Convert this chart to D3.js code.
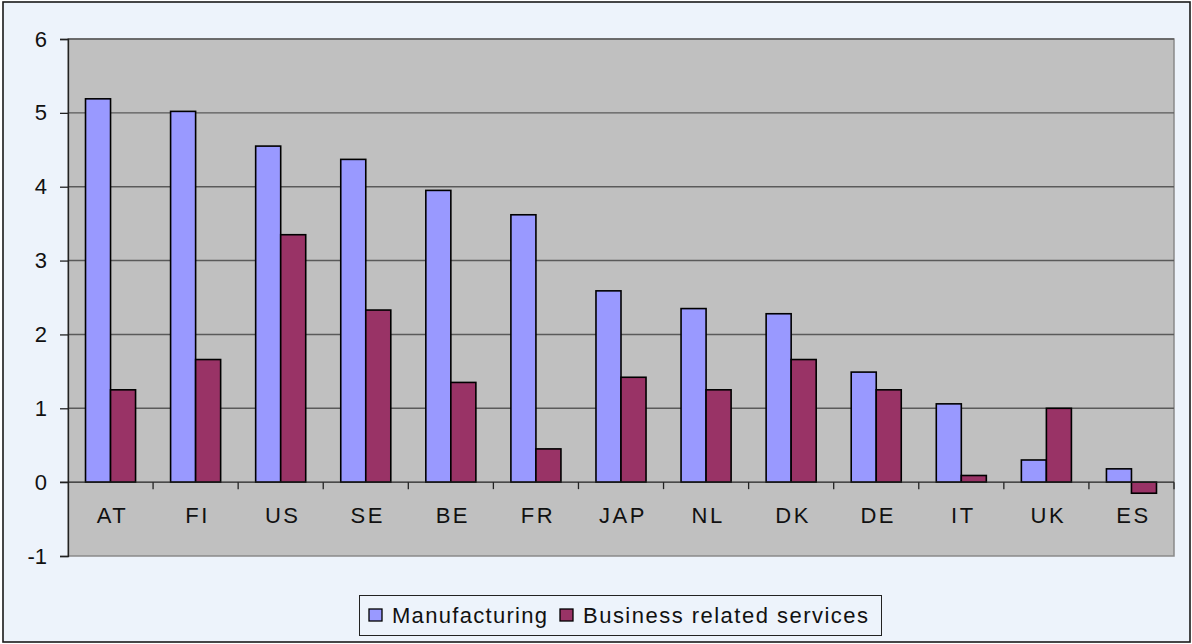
<!DOCTYPE html>
<html>
<head>
<meta charset="utf-8">
<script src="https://cdn.jsdelivr.net/npm/d3@7"></script>
<style>
  html, body { margin: 0; padding: 0; background: #ffffff; }
  svg { display: block; font-family: "Liberation Sans", Arial, sans-serif; }
</style>
</head>
<body>
<svg id="chart" width="1192" height="644"></svg>
<script>
// Countries along the category axis
const countries = ["AT", "FI", "US", "SE", "BE", "FR", "JAP", "NL", "DK", "DE", "IT", "UK", "ES"];
// Series names and values per country
const seriesNames = ["Manufacturing", "Business related services"];
const manufacturing = [5.19, 5.02, 4.55, 4.37, 3.95, 3.62, 2.59, 2.35, 2.28, 1.49, 1.06, 0.30, 0.18];
const services      = [1.25, 1.66, 3.35, 2.33, 1.35, 0.45, 1.42, 1.25, 1.66, 1.25, 0.09, 1.00, -0.15];
// Value axis ticks
const yTicks = [-1, 0, 1, 2, 3, 4, 5, 6];

const colors = ["#9999FF", "#993366"];
const seriesValues = [manufacturing, services];

const svg = d3.select("#chart");
const W = 1192, H = 644;
const plot = { left: 68, right: 1174, top: 39, bottom: 556 };
const FONT = "Liberation Sans, Arial, sans-serif";

// Chart background and frame
svg.append("rect").attr("x", 0).attr("y", 0).attr("width", W).attr("height", H).attr("fill", "#ffffff");
svg.append("rect")
  .attr("x", 3).attr("y", 2).attr("width", 1187).attr("height", 640)
  .attr("fill", "#EDF3FB").attr("stroke", "#1a1a1a").attr("stroke-width", 1.6);

const x0 = d3.scaleBand().domain(countries).range([plot.left, plot.right]).paddingInner(0).paddingOuter(0);
const bw = x0.bandwidth();
const groupW = bw / 1.7;
const x1 = d3.scaleBand().domain(seriesNames).range([(bw - groupW) / 2, (bw + groupW) / 2]).padding(0);
const y = d3.scaleLinear().domain([-1, 6]).range([plot.bottom, plot.top]);

// Plot area
svg.append("rect")
  .attr("x", plot.left).attr("y", plot.top)
  .attr("width", plot.right - plot.left).attr("height", plot.bottom - plot.top)
  .attr("fill", "#C0C0C0").attr("stroke", "#8a8a8a").attr("stroke-width", 1.5);

// Horizontal gridlines
svg.append("g").selectAll("line")
  .data(yTicks.filter(t => t > -1 && t !== 0))
  .join("line")
  .attr("x1", plot.left).attr("x2", plot.right)
  .attr("y1", d => y(d)).attr("y2", d => y(d))
  .attr("stroke", "#5a5a5a").attr("stroke-width", 1.4);

// Value axis
const yAxis = d3.axisLeft(y).tickValues(yTicks).tickSize(8).tickPadding(13).tickFormat(d => String(d));
const gy = svg.append("g").attr("transform", `translate(${plot.left},0)`).call(yAxis);
gy.attr("font-family", FONT).attr("font-size", 22);
gy.select(".domain").attr("stroke", "#222").attr("stroke-width", 1.3);
gy.selectAll(".tick line").attr("stroke", "#222").attr("stroke-width", 1.3);
gy.selectAll(".tick text").attr("fill", "#111");

// Bars
const groups = svg.append("g").selectAll("g")
  .data(countries)
  .join("g")
  .attr("transform", d => `translate(${x0(d)},0)`);

groups.selectAll("rect")
  .data((d, i) => seriesNames.map((s, k) => ({ s, k, v: seriesValues[k][i] })))
  .join("rect")
  .attr("x", d => x1(d.s))
  .attr("width", x1.bandwidth())
  .attr("y", d => y(Math.max(0, d.v)))
  .attr("height", d => Math.abs(y(d.v) - y(0)))
  .attr("fill", d => colors[d.k])
  .attr("stroke", "#000").attr("stroke-width", 1.6);

// Category axis along zero
const gx = svg.append("g").attr("transform", `translate(0,${y(0)})`);
gx.append("line")
  .attr("x1", plot.left - 8).attr("x2", plot.right)
  .attr("y1", 0).attr("y2", 0)
  .attr("stroke", "#222").attr("stroke-width", 1.3);
gx.selectAll("line.tick")
  .data(countries.slice(1).concat(["__end"]))
  .join("line")
  .attr("class", "tick")
  .attr("x1", d => d === "__end" ? plot.right : x0(d))
  .attr("x2", d => d === "__end" ? plot.right : x0(d))
  .attr("y1", 0).attr("y2", 7)
  .attr("stroke", "#222").attr("stroke-width", 1.3);
gx.selectAll("text")
  .data(countries)
  .join("text")
  .attr("x", d => x0(d) + bw / 2 + 2)
  .attr("y", 41)
  .attr("text-anchor", "middle")
  .attr("font-family", FONT)
  .attr("font-size", 22)
  .attr("letter-spacing", 2.5)
  .attr("fill", "#111")
  .text(d => d);

// Legend
const legend = svg.append("g");
legend.append("rect")
  .attr("x", 359.5).attr("y", 595.5).attr("width", 522).attr("height", 40)
  .attr("fill", "#EDF3FB").attr("stroke", "#222").attr("stroke-width", 1);
const legendItems = [
  { name: seriesNames[0], color: colors[0], sx: 369, tx: 392, len: 155 },
  { name: seriesNames[1], color: colors[1], sx: 560, tx: 583, len: 285 }
];
legend.selectAll("rect.sw")
  .data(legendItems)
  .join("rect")
  .attr("class", "sw")
  .attr("x", d => d.sx).attr("y", 609).attr("width", 13).attr("height", 12)
  .attr("fill", d => d.color).attr("stroke", "#000").attr("stroke-width", 1.3);
legend.selectAll("text")
  .data(legendItems)
  .join("text")
  .attr("x", d => d.tx).attr("y", 623)
  .attr("font-family", FONT)
  .attr("font-size", 22)
  .attr("textLength", d => d.len)
  .attr("lengthAdjust", "spacing")
  .attr("fill", "#111")
  .text(d => d.name);
</script>
</body>
</html>
